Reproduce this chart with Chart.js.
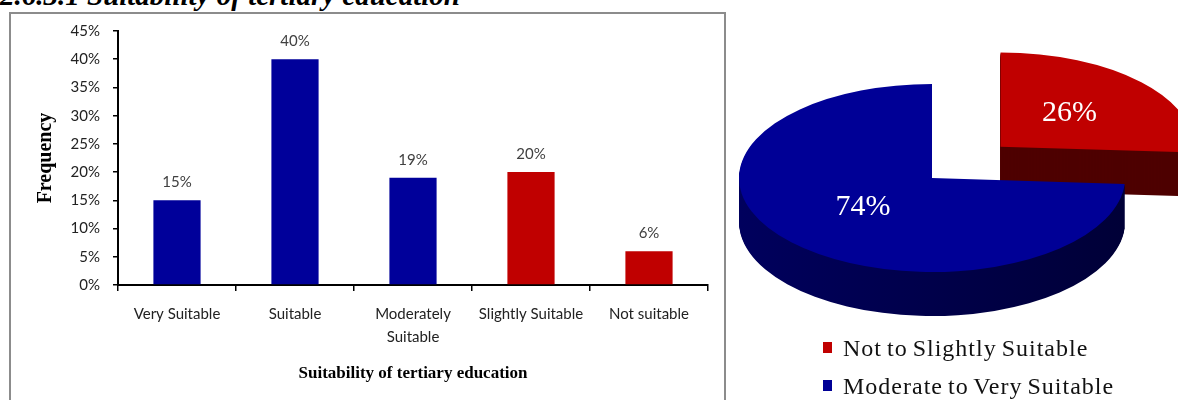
<!DOCTYPE html>
<html>
<head>
<meta charset="utf-8">
<script src="https://cdn.jsdelivr.net/npm/chart.js@4"></script>
<style>
  html, body { margin: 0; padding: 0; background: #fff; }
  body { position: relative; width: 1178px; height: 400px; overflow: hidden; }
  .heading {
    position: absolute; left: 0; top: -19px; margin: 0;
    font: italic bold 29px/29px "Liberation Serif", serif; color: #000; white-space: nowrap;
  }
  .frame {
    position: absolute; left: 9px; top: 12px; width: 713px; height: 420px;
    border: 2px solid #8c8c8c;
  }
  #barChart { position: absolute; left: 11px; top: 14px; }
  #pieChart { position: absolute; left: 730px; top: 0; }
  .legend { position: absolute; left: 823px; top: 335px; }
  .legend-row {
    position: relative; height: 38px; line-height: 38px; padding-left: 20px;
    font: 24px "Liberation Serif", serif; color: #111;
    letter-spacing: 1px; word-spacing: -2px; white-space: nowrap;
  }
  .legend-row span { position: absolute; left: 0; top: 7px; width: 9px; height: 11px; }
</style>
</head>
<body>
<h2 class="heading">2.6.3.1 Suitability of tertiary education</h2>
<div class="frame"></div>
<canvas id="barChart" width="713" height="386"></canvas>
<canvas id="pieChart" width="448" height="356"></canvas>
<div class="legend" id="pieLegend"></div>

<script>
  // bar chart data
  const categories = ["Very Suitable", "Suitable", ["Moderately", "Suitable"], "Slightly Suitable", "Not suitable"];
  const frequency = [15, 40, 19, 20, 6];
  const yMax = 45;
  const yStep = 5;

  // pie chart data
  const pieLabels = ["Not to Slightly Suitable", "Moderate to Very Suitable"];
  const pieValues = [26, 74];

  const BLUE = "#00009a";
  const RED = "#c00000";
  const barColors = [BLUE, BLUE, BLUE, RED, RED];
  const pieColors = [RED, "#000096"];
  const pieSideColors = ["#4e0000", null]; // null -> gradient

  const sansFont = "Lato, 'Liberation Sans', sans-serif";
  const serifFont = "'Liberation Serif', 'Times New Roman', serif";

  // value labels above each bar
  const barValueLabels = {
    id: "barValueLabels",
    afterDatasetsDraw(chart) {
      const ctx = chart.ctx;
      const meta = chart.getDatasetMeta(0);
      ctx.save();
      ctx.font = "15px " + sansFont;
      ctx.fillStyle = "#404040";
      ctx.textAlign = "center";
      ctx.textBaseline = "alphabetic";
      meta.data.forEach((bar, i) => {
        ctx.fillText(frequency[i] + "%", bar.x, bar.y - 13);
      });
      ctx.restore();
    },
  };

  new Chart(document.getElementById("barChart"), {
    type: "bar",
    data: {
      labels: categories,
      datasets: [
        {
          data: frequency,
          backgroundColor: barColors,
          borderWidth: 0,
          categoryPercentage: 1,
          barPercentage: 0.4,
        },
      ],
    },
    options: {
      responsive: false,
      animation: false,
      layout: { padding: { top: 17, right: 16, bottom: 0, left: 0 } },
      plugins: { legend: { display: false }, tooltip: { enabled: false } },
      scales: {
        y: {
          min: 0,
          max: yMax,
          afterFit: (scale) => {
            scale.width = 107;
            scale.paddingTop = 0;
            scale.paddingBottom = 0;
          },
          ticks: {
            stepSize: yStep,
            padding: 13,
            color: "#222",
            font: { family: sansFont, size: 15 },
            callback: (v) => v + "%",
          },
          grid: { drawOnChartArea: false, tickLength: 5, color: "#000", lineWidth: 1.5 },
          border: { color: "#000", width: 2 },
          title: {
            display: true,
            text: "Frequency",
            color: "#000",
            font: { family: serifFont, size: 20, weight: "bold" },
            padding: { top: 23, bottom: 0 },
          },
        },
        x: {
          afterFit: (scale) => { scale.height = 115; },
          ticks: {
            autoSkip: false,
            maxRotation: 0,
            padding: 12,
            color: "#222",
            font: { family: sansFont, size: 15, lineHeight: 1.5 },
          },
          grid: { drawOnChartArea: false, offset: true, tickLength: 6, color: "#000", lineWidth: 1.5 },
          border: { color: "#000", width: 2 },
          title: {
            display: true,
            text: "Suitability of tertiary education",
            color: "#000",
            font: { family: serifFont, size: 17, weight: "bold" },
            padding: { top: 0, bottom: 16 },
          },
        },
      },
    },
    plugins: [barValueLabels],
  });

  // 3D pie: squash the chart vertically and extrude each slice downward
  const TILT = 0.487;
  const DEPTH = 44;

  function slicePath(ctx, arc, dy) {
    const p = arc.getProps(["x", "y", "startAngle", "endAngle", "outerRadius", "circumference"], true);
    const shift = (arc.options.offset || 0) / 4;
    const fix = 1 - Math.sin(Math.min(Math.PI, p.circumference || 0));
    const mid = (p.startAngle + p.endAngle) / 2;
    const cx = p.x + Math.cos(mid) * shift;
    const cy = p.y + Math.sin(mid) * shift + dy;
    ctx.beginPath();
    ctx.moveTo(cx, cy);
    ctx.arc(cx, cy, p.outerRadius + shift * fix, p.startAngle, p.endAngle);
    ctx.closePath();
  }

  const pie3d = {
    id: "pie3d",
    beforeDatasetsDraw(chart) {
      const ctx = chart.ctx;
      const area = chart.chartArea;
      const midY = (area.top + area.bottom) / 2;
      ctx.save();
      ctx.translate(0, midY);
      ctx.scale(1, TILT);
      ctx.translate(0, -midY);

      const meta = chart.getDatasetMeta(0);
      const sideGrad = ctx.createLinearGradient(area.left, 0, area.right, 0);
      sideGrad.addColorStop(0, "#00005e");
      sideGrad.addColorStop(0.5, "#00004a");
      sideGrad.addColorStop(1, "#000036");
      meta.data.forEach((arc, i) => {
        ctx.fillStyle = pieSideColors[i] || sideGrad;
        for (let d = DEPTH; d > 0; d -= 1) {
          slicePath(ctx, arc, d / TILT);
          ctx.fill();
        }
      });
    },
    afterDatasetsDraw(chart) {
      const ctx = chart.ctx;
      ctx.restore();

      const area = chart.chartArea;
      const midY = (area.top + area.bottom) / 2;
      const meta = chart.getDatasetMeta(0);
      ctx.save();
      ctx.font = "30px " + serifFont;
      ctx.fillStyle = "#fff";
      ctx.textAlign = "center";
      ctx.textBaseline = "middle";
      meta.data.forEach((arc, i) => {
        const p = arc.getProps(["x", "y", "startAngle", "endAngle", "outerRadius"], true);
        const shift = (arc.options.offset || 0) / 4;
        const mid = (p.startAngle + p.endAngle) / 2;
        const r = p.outerRadius * 0.49 + shift;
        const x = p.x + Math.cos(mid) * r;
        const y = midY + (p.y - midY + Math.sin(mid) * r) * TILT;
        ctx.fillText(pieValues[i] + "%", x, y - 2);
      });
      ctx.restore();
    },
  };

  new Chart(document.getElementById("pieChart"), {
    type: "pie",
    data: {
      labels: pieLabels,
      datasets: [
        {
          data: pieValues,
          backgroundColor: pieColors,
          borderWidth: 0,
          offset: [376, 0],
          clip: false,
        },
      ],
    },
    options: {
      responsive: false,
      animation: false,
      radius: 193,
      cutout: "0%",
      layout: { padding: { top: 0, right: 44, bottom: 0, left: 0 } },
      plugins: { legend: { display: false }, tooltip: { enabled: false } },
    },
    plugins: [pie3d],
  });

  // legend for the pie
  const legendBox = document.getElementById("pieLegend");
  pieLabels.forEach((label, i) => {
    const row = document.createElement("div");
    row.className = "legend-row";
    const swatch = document.createElement("span");
    swatch.style.background = pieColors[i];
    row.appendChild(swatch);
    row.appendChild(document.createTextNode(label));
    legendBox.appendChild(row);
  });
</script>
</body>
</html>
